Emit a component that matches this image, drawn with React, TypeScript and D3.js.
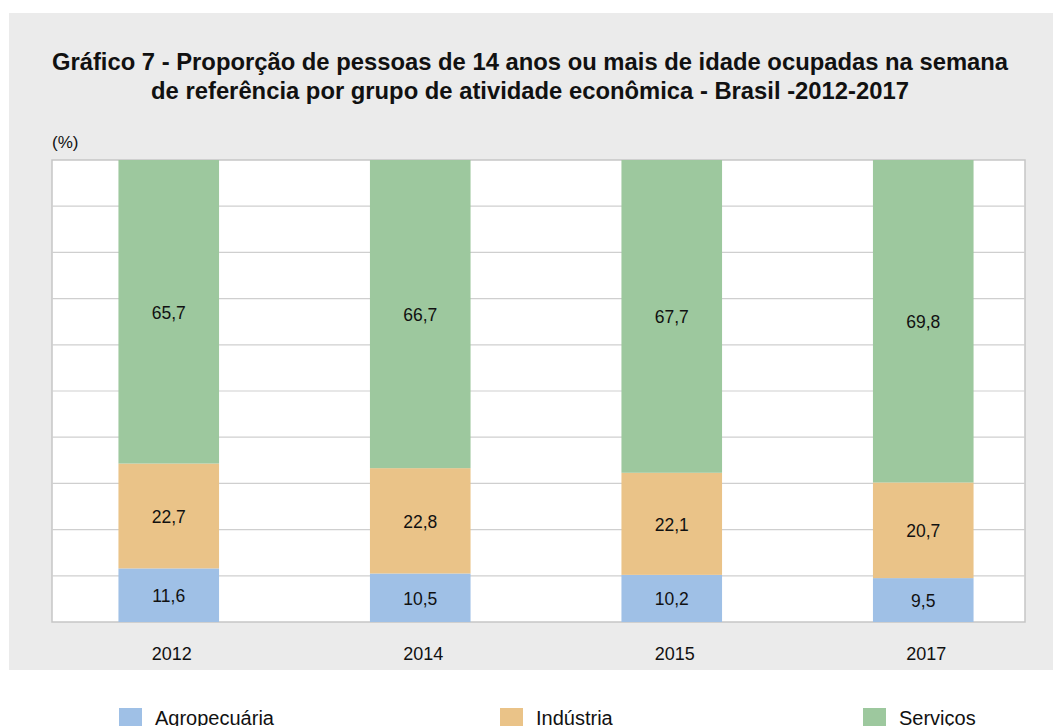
import React from "react";
import * as d3 from "d3";

const years = ["2012", "2014", "2015", "2017"];
const agropecuaria = [11.6, 10.5, 10.2, 9.5];
const industria = [22.7, 22.8, 22.1, 20.7];
const servicos = [65.7, 66.7, 67.7, 69.8];
const seriesNames = ["Agropecuária", "Indústria", "Serviços"];
const seriesColors = ["#9fc0e6", "#eac388", "#9dc89e"];
const yTicks = [0, 10, 20, 30, 40, 50, 60, 70, 80, 90, 100];
const titleLines = [
  "Gráfico 7 - Proporção de pessoas de 14 anos ou mais de idade ocupadas na semana",
  "de referência por grupo de atividade econômica - Brasil -2012-2017",
];

const W = 1053;
const H = 726;
const FONT = "'Liberation Sans', Arial, sans-serif";

export default function App() {
  const plot = { left: 52, right: 1025, top: 160, bottom: 622 };
  const y = d3.scaleLinear().domain([0, 100]).range([plot.bottom, plot.top]);
  const x = d3.scaleBand<string>().domain(years).range([43, 1049]).padding(0);
  const barW = x.bandwidth() * 0.4;

  const rows = years.map((yr, i) => ({
    year: yr,
    a: agropecuaria[i],
    b: industria[i],
    c: servicos[i],
  }));
  const stack = d3.stack<any>().keys(["a", "b", "c"]);
  const layers = stack(rows);
  const fmt = (v: number) => v.toFixed(1).replace(".", ",");

  const legendX = [119, 500, 863];

  return (
    <svg
      width={W}
      height={H}
      style={{ position: "absolute", left: 0, top: 0, background: "#fff" }}
      fontFamily={FONT}
    >
      <rect x={9} y={13} width={W - 9} height={657} fill="#ebebeb" />
      {titleLines.map((t, i) => (
        <text
          key={i}
          x={530}
          y={70 + i * 29}
          textAnchor="middle"
          fontSize={23.8}
          fontWeight="bold"
          fill="#111"
        >
          {t}
        </text>
      ))}
      <text x={52} y={148} fontSize={17} fill="#111">
        (%)
      </text>
      <rect
        x={plot.left}
        y={plot.top}
        width={plot.right - plot.left}
        height={plot.bottom - plot.top}
        fill="#fff"
        stroke="#c6c6c6"
        strokeWidth={1.5}
      />
      {yTicks.slice(1, -1).map((t) => (
        <line
          key={t}
          x1={plot.left}
          x2={plot.right}
          y1={y(t)}
          y2={y(t)}
          stroke="#cfcfcf"
          strokeWidth={1.2}
        />
      ))}
      {layers.map((layer, li) => (
        <g key={li}>
          {layer.map((d, i) => {
            const cx = (x(years[i]) as number) + x.bandwidth() / 2;
            const y0 = y(d[0]);
            const y1 = y(d[1]);
            return (
              <g key={i}>
                <rect x={cx - barW / 2} y={y1} width={barW} height={y0 - y1} fill={seriesColors[li]} />
                <text
                  x={cx}
                  y={(y0 + y1) / 2 + 7}
                  textAnchor="middle"
                  fontSize={17.5}
                  fill="#111"
                >
                  {fmt(d[1] - d[0])}
                </text>
              </g>
            );
          })}
        </g>
      ))}
      {years.map((yr) => (
        <text
          key={yr}
          x={(x(yr) as number) + x.bandwidth() / 2 + 3}
          y={660}
          textAnchor="middle"
          fontSize={18}
          fill="#111"
        >
          {yr}
        </text>
      ))}
      {seriesNames.map((s, i) => (
        <g key={s}>
          <rect x={legendX[i]} y={708} width={23} height={23} fill={seriesColors[i]} />
          <text x={legendX[i] + 36} y={725} fontSize={20} fill="#111">
            {s}
          </text>
        </g>
      ))}
    </svg>
  );
}
